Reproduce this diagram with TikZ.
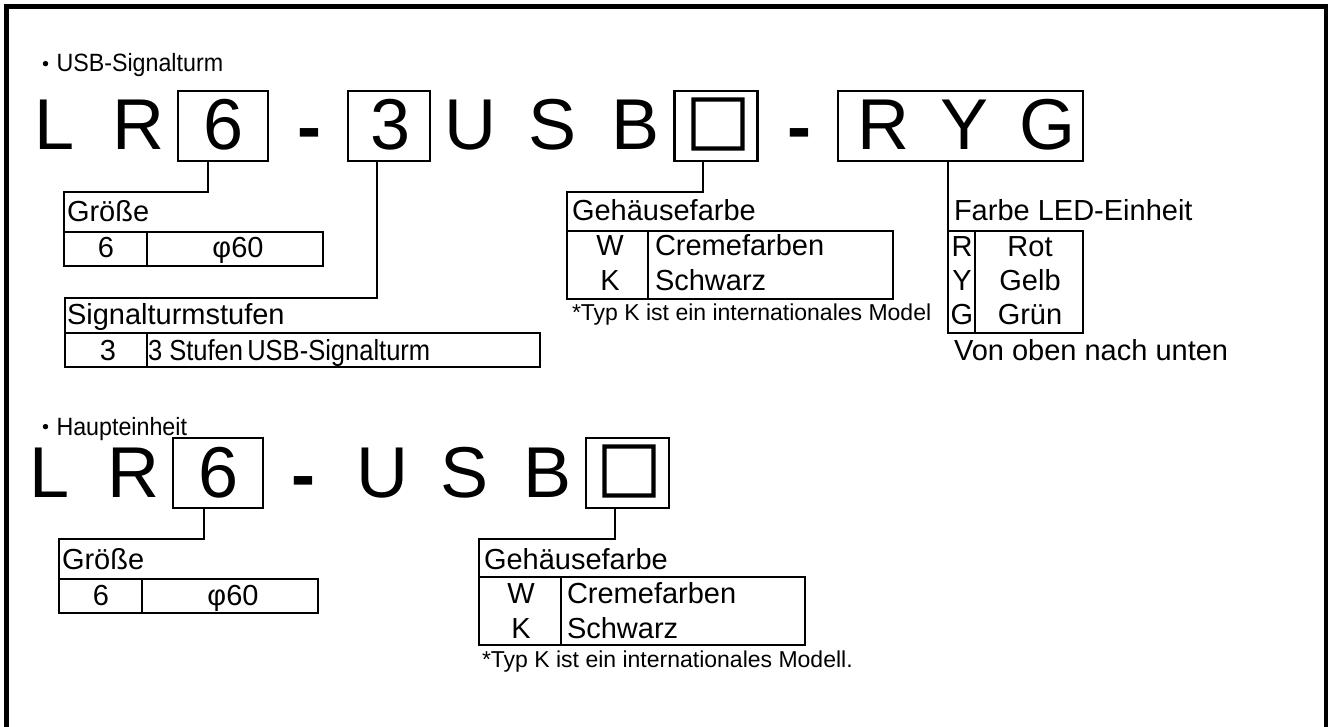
\documentclass[tikz,border=0pt]{standalone}
\usepackage{fontspec}
\setmainfont{Liberation Sans}
\newfontfamily\cjkb[FakeBold=3]{Noto Sans CJK JP}
\usetikzlibrary{calc}
\begin{document}
\begin{tikzpicture}[x=1pt,y=-1pt,
  every node/.style={inner sep=0pt, outer sep=0pt},
  fr/.style={line width=5pt, line join=miter},
  cbox/.style={draw, line width=2.8pt, minimum height=70pt},
  tbl/.style={draw, line width=2.8pt},
  conn/.style={line width=2.8pt, line join=miter},
  divi/.style={line width=1.3pt},
  big/.style={anchor=base, font=\fontsize{72}{80}\selectfont},
  hyph/.style={anchor=base, font=\bfseries\fontsize{72}{80}\selectfont},
  sq/.style={font=\cjkb\fontsize{64}{70}\selectfont},
  head/.style={anchor=base west, font=\fontsize{25}{28}\selectfont},
  lbl/.style={anchor=base west, font=\fontsize{29}{32}\selectfont},
  cell/.style={anchor=base, font=\fontsize{29}{32}\selectfont},
  note/.style={anchor=base west, font=\fontsize{23}{26}\selectfont}]
\useasboundingbox (0,0) rectangle (1328,727);
% frame
\draw[fr] (6,727) -- (6,6.5) -- (1326,6.5) -- (1326,727);

% ---------- row 1 ----------
\node[head] (h1) at (34.5,72) {{\cjkb\fontsize{22}{24}\selectfont ・}\scalebox{.93}[1]{USB-Signalturm}};

\node[cbox, minimum width=90pt] (b6) at (223,126) {};
\node[cbox, minimum width=82pt] (b3) at (389,126) {};
\node[cbox, minimum width=83pt] (bsq) at (716,126) {};
\node[cbox, minimum width=245pt] (bryg) at (960.5,126) {};

\node[big] (aL) at (55,150) {L};
\node[big] (aR) at (138,150) {R};
\node[big] (a6) at (224,150) {6};
\node[hyph] (ad1) at (309,152) {-};
\node[big] (a3) at (391,150) {3};
\node[big] (aU) at (470,150) {U};
\node[big] (aS) at (553,150) {S};
\node[big] (aB) at (636,150) {B};
\node[sq] (asq) at (718,124) {□};
\node[hyph] (ad2) at (799,152) {-};
\node[big] (aR2) at (883,150) {R};
\node[big] (aY) at (965,150) {Y};
\node[big] (aG) at (1047,150) {G};

% Groesse
\node[tbl, minimum width=259pt, minimum height=34pt] (g1row) at (193.5,249) {};
\coordinate (g1top) at (64,192);
\draw[conn] ([xshift=-15pt]b6.south) |- (g1top) -- (g1row.south west);
\draw[divi] ([xshift=83pt]g1row.north west) -- ([xshift=83pt]g1row.south west);
\node[lbl] (g1t) at (67,222) {Größe};
\node[cell] (g1a) at (106,258) {6};
\node[cell] (g1b) at (238,258) {φ60};

% Signalturmstufen
\node[tbl, minimum width=475pt, minimum height=34pt] (s1row) at (302.5,350) {};
\coordinate (s1top) at (65,298);
\draw[conn] ([xshift=-12pt]b3.south) |- (s1top) -- (s1row.south west);
\draw[divi] ([xshift=82pt]s1row.north west) -- ([xshift=82pt]s1row.south west);
\node[lbl] (s1t) at (67,325) {Signalturmstufen};
\node[cell] (s1a) at (108,360) {3};
\node[lbl] (s1b) at (148,360) {\scalebox{.88}[1]{3 Stufen\,USB-Signalturm}};

% Gehaeusefarbe
\node[tbl, minimum width=326pt, minimum height=68pt] (f1tab) at (730,265) {};
\coordinate (f1top) at (567,192);
\draw[conn] ([xshift=-13pt]bsq.south) |- (f1top) -- (f1tab.south west);
\draw[divi] ([xshift=81pt]f1tab.north west) -- ([xshift=81pt]f1tab.south west);
\node[lbl] (f1t) at (572,221) {Gehäusefarbe};
\node[cell] (f1w) at (610,256) {W};
\node[lbl] (f1c) at (655,256) {Cremefarben};
\node[cell] (f1k) at (610,291) {K};
\node[lbl] (f1s) at (655,291) {Schwarz};
\node[note] (f1n) at (572,320) {*Typ K ist ein internationales Model};

% LED
\node[tbl, minimum width=135pt, minimum height=102pt] (led) at (1015.5,282) {};
\draw[conn] ([xshift=-12.5pt]bryg.south) -- (led.south west);
\draw[divi] ([xshift=27pt]led.north west) -- ([xshift=27pt]led.south west);
\node[lbl] (lt) at (954,221) {Farbe LED-Einheit};
\node[cell] (lr) at (962,257) {R};
\node[cell] (ly) at (962,291) {Y};
\node[cell] (lg) at (962,325) {G};
\node[cell] (lr2) at (1030,257) {Rot};
\node[cell] (ly2) at (1030,291) {Gelb};
\node[cell] (lg2) at (1030,325) {Grün};
\node[lbl] (lv) at (954,360) {Von oben nach unten};

% ---------- row 2 ----------
\node[head] (h2) at (34.5,435) {{\cjkb\fontsize{22}{24}\selectfont ・}\scalebox{.93}[1]{Haupteinheit}};

\node[cbox, minimum width=90pt] (c6) at (218,473) {};
\node[cbox, minimum width=83pt] (csq) at (627.5,473) {};

\node[big] (bL) at (50,497) {L};
\node[big] (bR) at (133,497) {R};
\node[big] (b6t) at (219,497) {6};
\node[hyph] (bd) at (303,499) {-};
\node[big] (bU) at (382,497) {U};
\node[big] (bS) at (465,497) {S};
\node[big] (bB) at (548,497) {B};
\node[sq] (bsqt) at (629,471) {□};

% Groesse 2
\node[tbl, minimum width=259pt, minimum height=34pt] (g2row) at (188.5,596) {};
\coordinate (g2top) at (59,539);
\draw[conn] ([xshift=-14pt]c6.south) |- (g2top) -- (g2row.south west);
\draw[divi] ([xshift=83pt]g2row.north west) -- ([xshift=83pt]g2row.south west);
\node[lbl] (g2t) at (62,569) {Größe};
\node[cell] (g2a) at (101,605) {6};
\node[cell] (g2b) at (233,605) {φ60};

% Gehaeusefarbe 2
\node[tbl, minimum width=326pt, minimum height=68pt] (f2tab) at (642,611) {};
\coordinate (f2top) at (479,539);
\draw[conn] ([xshift=-12.5pt]csq.south) |- (f2top) -- (f2tab.south west);
\draw[divi] ([xshift=82pt]f2tab.north west) -- ([xshift=82pt]f2tab.south west);
\node[lbl] (f2t) at (484,569) {Gehäusefarbe};
\node[cell] (f2w) at (521,603) {W};
\node[lbl] (f2c) at (567,603) {Cremefarben};
\node[cell] (f2k) at (521,638) {K};
\node[lbl] (f2s) at (567,638) {Schwarz};
\node[note] (f2n) at (482,667) {*Typ K ist ein internationales Modell.};
\end{tikzpicture}
\end{document}
